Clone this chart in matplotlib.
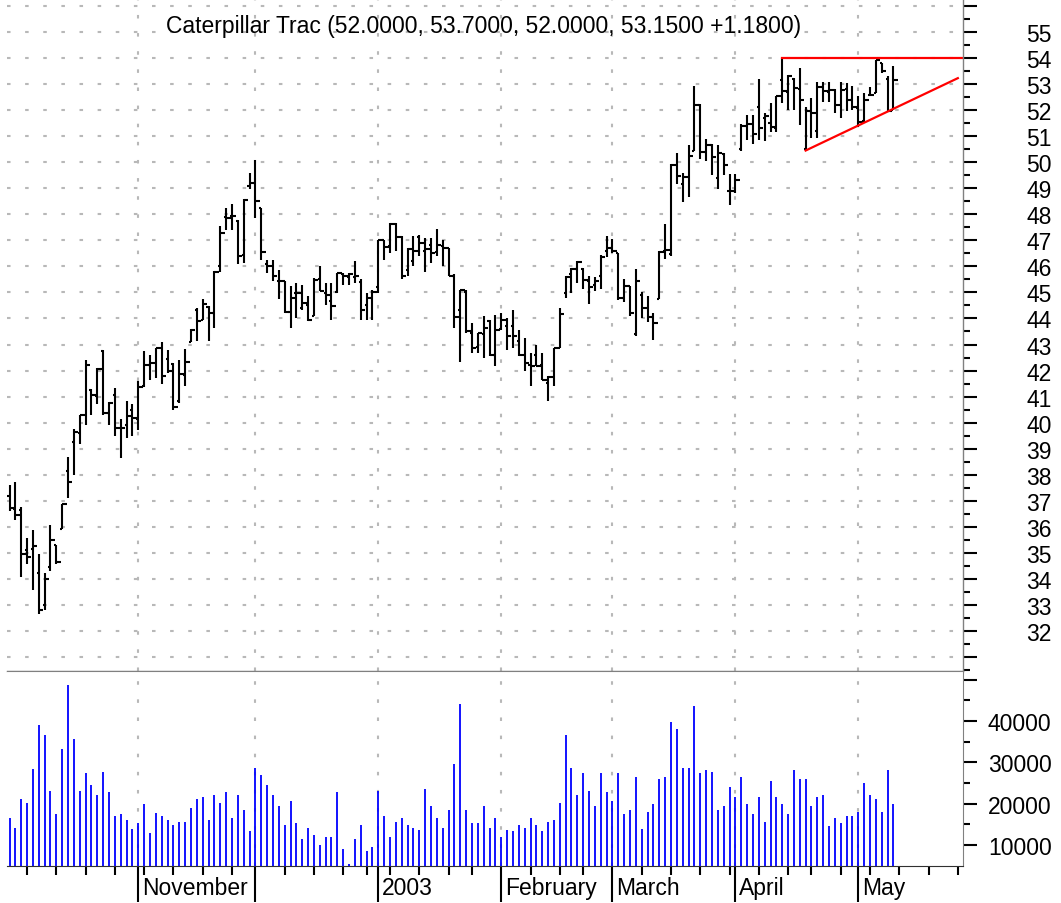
import numpy as np
import matplotlib.pyplot as plt
import pandas as pd

plt.rcParams['font.family'] = ['Liberation Sans', 'DejaVu Sans']

title = 'Caterpillar Trac (52.0000, 53.7000, 52.0000, 53.1500 +1.1800)'
holidays = ['2002-11-28', '2002-12-25', '2003-01-01', '2003-01-20',
            '2003-02-17', '2003-04-18', '2003-05-26']
month_names = {11: 'November', 12: '', 1: '2003', 2: 'February', 3: 'March',
               4: 'April', 5: 'May'}

# daily bars, 2 Oct 2002 .. 9 May 2003
opens = [37.20, 36.70, 36.63, 35.09, 35.16, 34.24, 32.98, 34.45, 35.29, 35.93,
         38.14, 39.26, 39.60, 40.30, 41.27, 41.04, 42.74, 40.35, 41.05, 39.80,
         39.90, 40.50, 40.12, 41.40, 42.20, 42.30, 42.87, 42.45, 42.27, 40.82,
         41.81, 43.10, 44.34, 43.96, 44.45, 44.21, 46.00, 47.90, 47.95, 47.73,
         46.45, 49.08, 49.21, 48.25, 46.10, 46.01, 45.43, 45.43, 44.24, 44.98,
         44.41, 44.50, 44.10, 45.52, 44.98, 44.66, 45.01, 45.70, 45.60, 45.60,
         45.40, 44.53, 44.79, 45.20, 47.00, 46.80, 47.64, 47.13, 45.88, 46.20,
         47.13, 46.60, 46.84, 46.54, 46.80, 46.70, 45.65, 44.34, 45.00, 43.45,
         42.90, 43.40, 43.90, 42.60, 43.60, 43.70, 43.72, 43.13, 42.60, 42.23,
         42.61, 42.20, 41.52, 41.74, 42.87, 44.98, 45.70, 45.90, 45.90, 45.45,
         45.30, 45.62, 46.60, 46.70, 46.51, 44.78, 45.24, 43.40, 44.90, 44.42,
         44.05, 44.76, 46.60, 46.47, 49.90, 49.16, 49.45, 50.44, 52.19, 50.40,
         50.65, 49.40, 50.30, 48.90, 48.90, 50.52, 51.40, 51.48, 52.12, 51.70,
         51.50, 51.30, 53.17, 52.70, 53.20, 52.80, 50.50, 51.95, 51.20, 52.90,
         52.70, 52.78, 52.20, 52.80, 52.40, 52.10, 51.60, 52.60, 52.65, 53.80,
         53.20, 52.00]
highs = [37.62, 37.72, 36.76, 35.57, 35.86, 34.97, 34.24, 36.08, 35.29, 36.89,
         38.68, 39.77, 40.31, 42.42, 41.30, 42.10, 42.80, 40.80, 41.33, 40.15,
         40.82, 40.70, 41.60, 42.74, 42.60, 42.87, 43.09, 42.80, 42.30, 42.40,
         42.83, 43.60, 44.41, 44.73, 44.47, 45.81, 47.54, 48.25, 48.38, 47.77,
         48.57, 49.59, 50.10, 48.25, 46.26, 46.26, 45.88, 45.43, 45.24, 45.37,
         45.30, 44.85, 45.56, 46.01, 45.37, 45.37, 45.75, 45.75, 45.75, 46.20,
         45.52, 44.98, 45.11, 47.03, 47.00, 47.67, 47.67, 47.16, 46.70, 47.16,
         47.22, 47.10, 47.10, 47.44, 47.03, 46.70, 45.69, 45.11, 45.08, 43.83,
         43.45, 44.09, 43.96, 44.15, 44.21, 44.02, 44.34, 43.57, 43.25, 42.68,
         43.00, 42.68, 41.78, 42.87, 44.41, 45.63, 45.95, 46.20, 45.92, 45.63,
         45.60, 46.42, 47.16, 47.04, 46.52, 45.51, 45.25, 45.89, 45.02, 44.86,
         44.22, 46.59, 47.62, 49.92, 50.35, 49.60, 50.66, 52.94, 52.22, 50.90,
         50.72, 50.66, 50.35, 49.55, 49.55, 51.45, 51.83, 51.80, 53.20, 51.88,
         52.27, 52.56, 54.00, 53.36, 53.23, 53.62, 52.14, 52.46, 53.10, 53.10,
         53.10, 52.80, 53.10, 53.04, 52.91, 52.53, 52.65, 52.90, 53.94, 53.81,
         53.30, 53.70]
lows = [36.59, 36.25, 34.07, 34.58, 33.56, 32.66, 32.79, 34.29, 34.58, 35.93,
        37.10, 37.98, 39.16, 39.90, 40.30, 40.70, 40.30, 39.90, 39.50, 38.64,
        39.40, 39.50, 39.73, 41.35, 41.65, 41.72, 41.50, 41.90, 40.50, 40.76,
        41.40, 43.10, 43.13, 43.96, 43.13, 43.64, 45.78, 47.41, 47.41, 46.11,
        46.13, 48.98, 47.86, 46.26, 45.75, 45.43, 44.73, 44.21, 43.64, 44.02,
        44.34, 43.89, 44.09, 45.05, 44.53, 43.96, 44.98, 45.30, 45.30, 45.37,
        43.96, 43.96, 43.96, 44.98, 46.26, 46.52, 46.58, 45.52, 45.62, 46.00,
        46.39, 45.80, 46.13, 46.39, 46.00, 45.62, 43.64, 42.32, 43.45, 42.68,
        42.68, 42.49, 42.55, 42.17, 43.57, 42.80, 42.87, 42.55, 41.97, 41.40,
        42.17, 41.65, 40.82, 41.40, 42.87, 44.80, 44.99, 45.37, 45.12, 44.54,
        45.06, 45.12, 46.36, 46.52, 44.70, 44.65, 44.10, 43.33, 44.00, 43.87,
        43.17, 44.74, 46.30, 46.41, 49.16, 48.48, 48.65, 50.44, 50.12, 50.05,
        49.52, 48.98, 49.52, 48.35, 48.80, 50.45, 50.85, 50.72, 50.86, 50.80,
        51.18, 51.18, 52.27, 52.01, 52.01, 51.44, 50.47, 50.92, 50.92, 52.33,
        52.33, 51.88, 51.70, 51.95, 52.00, 51.37, 51.56, 52.55, 52.65, 53.42,
        51.95, 52.00]
closes = [36.72, 36.46, 34.97, 34.84, 35.26, 32.82, 34.00, 35.48, 34.65, 36.89,
          37.72, 39.65, 40.30, 42.20, 41.06, 42.06, 40.35, 40.77, 39.80, 39.80,
          40.25, 40.18, 41.36, 42.20, 42.30, 42.87, 41.80, 42.00, 40.60, 41.85,
          42.32, 43.55, 43.92, 44.56, 44.21, 45.80, 47.29, 47.86, 47.95, 46.39,
          48.54, 49.21, 48.50, 46.54, 46.03, 45.62, 45.43, 44.24, 44.79, 44.98,
          44.60, 43.95, 45.49, 45.05, 44.90, 44.47, 45.75, 45.62, 45.69, 45.62,
          44.34, 44.79, 45.01, 47.00, 46.75, 47.64, 47.13, 45.65, 46.67, 46.60,
          46.90, 46.67, 46.52, 46.84, 46.70, 45.65, 44.05, 45.08, 43.50, 42.87,
          43.45, 43.64, 42.60, 43.57, 43.96, 43.34, 43.32, 42.58, 42.29, 42.19,
          42.19, 41.65, 41.74, 42.87, 44.19, 45.60, 45.90, 46.18, 45.48, 45.20,
          45.45, 46.38, 46.70, 46.60, 44.78, 45.24, 44.20, 45.45, 44.42, 44.05,
          43.84, 46.55, 46.64, 49.88, 49.48, 49.45, 50.25, 52.19, 50.38, 50.66,
          50.20, 50.35, 49.90, 48.90, 49.32, 51.40, 51.48, 51.10, 51.30, 51.76,
          51.37, 52.53, 52.72, 53.30, 52.85, 52.40, 51.95, 51.88, 52.90, 52.72,
          52.78, 52.18, 52.78, 52.40, 52.14, 51.56, 52.40, 52.60, 53.94, 53.49,
          51.97, 53.15]
volumes = [16600, 14200, 21200, 20200, 28300, 39000, 36600, 23100, 17400, 33300,
           48700, 35700, 23100, 27300, 24400, 22100, 27700, 22700, 17000, 17400,
           16000, 13800, 15200, 19800, 12800, 17800, 17000, 16000, 14800, 15600,
           15600, 18900, 21200, 21700, 16000, 22100, 20200, 22700, 16500, 22100,
           18400, 13300, 28700, 26900, 24400, 22100, 19400, 14800, 20700, 15200,
           11400, 14200, 12300, 10000, 11900, 11900, 22700, 9100, 5400, 11400,
           14800, 8600, 9500, 23100, 17000, 11900, 15600, 16500, 14800, 14200,
           13700, 23600, 19400, 16500, 14200, 18400, 29600, 44100, 18400, 15200,
           15200, 19400, 14200, 16500, 11900, 13700, 13300, 14800, 14200,
           16600, 14800, 13300, 15600, 16000, 20200, 36600, 28700, 22200, 27300,
           23100, 19400, 27300, 22700, 20700, 27300, 17400, 18400, 26400, 13800,
           17900, 19800, 25900, 26400, 39800, 38000, 28700, 28700, 43600, 27300,
           28200, 27700, 18400, 19400, 24000, 21700, 26400, 19800, 17400, 21700,
           15600, 25400, 21700, 19800, 17400, 28200, 25900, 25900, 19400, 21700,
           22200, 14700, 16500, 15200, 16900, 16900, 17900, 24900, 22200, 21200,
           17900, 28200, 19800]

# drawn trend lines (bar index, price)
resistance = ([132, 163], [54.0, 54.0])
support = ([136, 162], [50.45, 53.23])

dates = pd.bdate_range('2002-10-02', '2003-05-09', freq='C', holidays=holidays)
axis_dates = pd.bdate_range('2002-10-02', '2003-05-30', freq='C', holidays=holidays)
x = np.arange(len(dates))

months = axis_dates.month.values
weeks = axis_dates.isocalendar().week.values
month_idx = [i for i in range(1, len(axis_dates)) if months[i] != months[i - 1]]
week_idx = [i for i in range(1, len(axis_dates)) if weeks[i] != weeks[i - 1]]

xmin, xmax = -0.43, 162.83
fs = 16.5
grid_kw = dict(color='#b8b8b8', lw=1.5, linestyle=(0, (1.7, 7.0)))

fig = plt.figure(figsize=(10.61, 9.04), dpi=100)
ax = fig.add_axes([7 / 1061, 232 / 904, 955.7 / 1061, 672 / 904])
axv = fig.add_axes([7 / 1061, 37 / 904, 955.7 / 1061, 195 / 904])

# ---- price panel ----
ax.vlines(x, lows, highs, color='black', lw=1.5)
ax.hlines(opens, x - 0.35, x, color='black', lw=1.5)
ax.hlines(closes, x, x + 0.75, color='black', lw=1.5)
ax.plot(resistance[0], resistance[1], color='red', lw=1.6)
ax.plot(support[0], support[1], color='red', lw=1.6)

ax.set_xlim(xmin, xmax)
ax.set_ylim(30.46, 56.27)
ax.set_axisbelow(True)
ax.yaxis.tick_right()
pticks = list(range(31, 57))
ax.set_yticks(pticks, [str(v) if 32 <= v <= 55 else '' for v in pticks])
ax.set_yticks(np.arange(30.5, 56.5, 1.0), minor=True)
ax.tick_params(axis='y', which='major', length=10, width=1.5, pad=54, labelsize=fs)
ax.tick_params(axis='y', which='minor', length=5, width=1.5)
for lbl in ax.get_yticklabels():
    lbl.set_horizontalalignment('right')
ax.set_xticks(month_idx)
ax.tick_params(axis='x', length=0, labelbottom=False)
ax.grid(True, axis='both', **grid_kw)
for s in ['left', 'top']:
    ax.spines[s].set_visible(False)
for s in ['right', 'bottom']:
    ax.spines[s].set_color('#808080')
    ax.spines[s].set_linewidth(1)

fig.text(484 / 1061, 1 - 26 / 904, title, ha='center', va='center', fontsize=fs)

# ---- volume panel ----
vmin, vmax = 4900, 52100
axv.vlines(x, vmin, volumes, color='#0000ff', lw=1.3)
axv.set_xlim(xmin, xmax)
axv.set_ylim(vmin, vmax)
axv.set_axisbelow(True)
axv.yaxis.tick_right()
vticks = [10000, 20000, 30000, 40000, 50000]
axv.set_yticks(vticks, ['10000', '20000', '30000', '40000', ''])
axv.set_yticks([15000, 25000, 35000, 45000], minor=True)
axv.tick_params(axis='y', which='major', length=10, width=1.5, pad=54, labelsize=fs)
axv.tick_params(axis='y', which='minor', length=5, width=1.5)
for lbl in axv.get_yticklabels():
    lbl.set_horizontalalignment('right')

axv.set_xticks(month_idx)
axv.set_xticks(week_idx, minor=True)
axv.tick_params(axis='x', which='major', length=26, width=1.5, labelbottom=False)
axv.tick_params(axis='x', which='minor', length=6.5, width=1.5)
axv.xaxis.grid(True, which='major', **grid_kw)
for i in month_idx:
    axv.text(i + 0.6, -0.108, month_names[axis_dates[i].month], transform=axv.get_xaxis_transform(),
             ha='left', va='center', fontsize=fs)
axv.spines['left'].set_visible(False)
axv.spines['top'].set_color('#808080')
axv.spines['right'].set_color('#808080')
axv.spines['bottom'].set_color('#303030')

fig.savefig('out.png', dpi=100)
